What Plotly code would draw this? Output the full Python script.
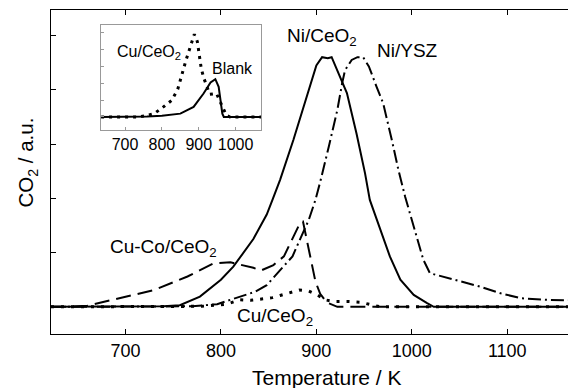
import plotly.graph_objects as go

# ---- main panel data ----
t_ni_ceo2 = [622, 700, 740, 757, 778, 800, 813, 834, 848, 854, 862, 876, 890, 900, 906, 912, 916, 923, 932, 942, 951, 956, 967, 977, 988, 1002, 1016, 1023, 1100, 1172]
y_ni_ceo2 = [0, 0, 0.01, 0.03, 0.19, 0.5, 0.74, 1.25, 1.7, 1.97, 2.34, 3.08, 3.87, 4.45, 4.6, 4.58, 4.6, 4.3, 3.94, 3.2, 2.46, 1.97, 1.42, 0.93, 0.5, 0.22, 0.07, 0, 0, 0]

t_ni_ysz = [622, 700, 770, 796, 813, 836, 848, 866, 875, 883, 892, 899, 904, 913, 922, 927, 930, 937, 943, 949, 955, 963, 970, 979, 986, 993, 1000, 1012, 1019, 1037, 1051, 1072, 1093, 1114, 1141, 1172]
y_ni_ysz = [0, 0, 0.01, 0.05, 0.15, 0.28, 0.4, 0.74, 0.93, 1.25, 1.6, 1.97, 2.3, 2.95, 3.63, 4.12, 4.36, 4.55, 4.6, 4.6, 4.43, 4.06, 3.75, 3.08, 2.52, 2.03, 1.6, 0.87, 0.62, 0.53, 0.47, 0.37, 0.25, 0.16, 0.13, 0.12]

t_cuco = [622, 640, 660, 695, 730, 765, 792, 810, 834, 842, 855, 866, 872, 883, 886, 890, 894, 899, 904, 911, 922, 1172]
y_cuco = [0, 0, 0.02, 0.16, 0.31, 0.56, 0.8, 0.82, 0.72, 0.67, 0.77, 0.93, 1.14, 1.55, 1.57, 1.23, 0.93, 0.47, 0.24, 0.08, 0, 0]

t_cu_ceo2 = [622, 700, 780, 806, 820, 831, 843, 854, 862, 873, 882, 892, 901, 909, 918, 932, 946, 967, 1172]
y_cu_ceo2 = [0, 0, 0.01, 0.05, 0.13, 0.12, 0.15, 0.17, 0.21, 0.26, 0.31, 0.29, 0.22, 0.13, 0.1, 0.1, 0.085, 0, 0]

# ---- inset data ----
t_in_cu = [635, 664, 686, 709, 734, 756, 779, 804, 827, 843, 857, 865, 873, 880, 888, 896, 903, 907, 914, 923, 930, 948, 966, 975, 985, 1070]
y_in_cu = [0, 0, 0, 0, 0, 0.015, 0.04, 0.12, 0.2, 0.33, 0.56, 0.67, 0.78, 0.89, 0.985, 0.9, 0.68, 0.57, 0.46, 0.36, 0.27, 0.28, 0.1, 0.02, 0, 0]

t_in_blank = [635, 700, 760, 800, 850, 886, 913, 932, 945, 954, 959, 964, 968, 1070]
y_in_blank = [0, 0, 0.005, 0.015, 0.04, 0.12, 0.28, 0.41, 0.45, 0.36, 0.2, 0.04, 0, 0]

x_ticks = [700, 800, 900, 1000, 1100]
inset_ticks = [700, 800, 900, 1000]

FONT = "Liberation Sans, Arial, sans-serif"

fig = go.Figure()
fig.add_trace(go.Scatter(x=t_ni_ceo2, y=y_ni_ceo2, mode="lines",
                         line=dict(color="black", width=2), hoverinfo="skip"))
fig.add_trace(go.Scatter(x=t_ni_ysz, y=y_ni_ysz, mode="lines",
                         line=dict(color="black", width=2, dash="13px,4px,2px,4px"), hoverinfo="skip"))
fig.add_trace(go.Scatter(x=t_cuco, y=y_cuco, mode="lines",
                         line=dict(color="black", width=2, dash="15px,7px"), hoverinfo="skip"))
fig.add_trace(go.Scatter(x=t_cu_ceo2, y=y_cu_ceo2, mode="lines",
                         line=dict(color="black", width=3, dash="3px,7px"), hoverinfo="skip"))

fig.add_trace(go.Scatter(x=t_in_cu, y=y_in_cu, mode="lines", xaxis="x2", yaxis="y2",
                         line=dict(color="black", width=3, dash="3px,5px"), hoverinfo="skip"))
fig.add_trace(go.Scatter(x=t_in_blank, y=y_in_blank, mode="lines", xaxis="x2", yaxis="y2",
                         line=dict(color="black", width=2), hoverinfo="skip"))

ann = [
    dict(x=906, y=4.97, xref="x", yref="y", text="Ni/CeO<sub>2</sub>"),
    dict(x=995, y=4.73, xref="x", yref="y", text="Ni/YSZ"),
    dict(x=740, y=1.09, xref="x", yref="y", text="Cu-Co/CeO<sub>2</sub>"),
    dict(x=857, y=-0.18, xref="x", yref="y", text="Cu/CeO<sub>2</sub>"),
]
annotations = [dict(a, showarrow=False, font=dict(family=FONT, size=19, color="black")) for a in ann]
annotations += [
    dict(x=765, y=0.77, xref="x2", yref="y2", text="Cu/CeO<sub>2</sub>", showarrow=False,
         font=dict(family=FONT, size=16, color="black")),
    dict(x=992, y=0.58, xref="x2", yref="y2", text="Blank", showarrow=False,
         font=dict(family=FONT, size=16, color="black")),
    # axis titles
    dict(x=0.5257, y=-0.1358, xref="paper", yref="paper", text="Temperature / K", showarrow=False,
         xanchor="center", yanchor="middle", font=dict(family=FONT, size=21, color="black")),
    dict(x=-0.0457, y=0.529, xref="paper", yref="paper", text="CO<sub>2</sub> / a.u.", showarrow=False,
         textangle=-90, xanchor="center", yanchor="middle",
         font=dict(family=FONT, size=20.5, color="black")),
]

# page body has an 8px margin, so the figure is placed at (8, 8) in the window
fig.update_layout(
    width=568, height=380,
    margin=dict(l=43, r=0, t=2, b=54),
    paper_bgcolor="white", plot_bgcolor="white",
    showlegend=False,
    font=dict(family=FONT, color="black"),
    annotations=annotations,
    xaxis=dict(range=[622, 1172], domain=[0, 1], tickvals=x_ticks, ticks="inside", ticklen=5,
               tickcolor="black", showline=True, linecolor="black", linewidth=1, mirror="ticks",
               showgrid=False, zeroline=False, tickfont=dict(size=18)),
    yaxis=dict(range=[-0.5, 5.47], tickvals=[0, 1, 2, 3, 4, 5], showticklabels=False,
               ticks="inside", ticklen=5, tickcolor="black", showline=True, linecolor="black",
               linewidth=1, mirror="ticks", showgrid=False, zeroline=False),
    xaxis2=dict(range=[635, 1070], domain=[0.0954, 0.4008], anchor="y2", tickvals=inset_ticks,
                ticks="inside", ticklen=3, tickcolor="#999999", showline=True, linecolor="#999999",
                linewidth=1, mirror=True, showgrid=False, zeroline=False,
                tickfont=dict(size=16)),
    yaxis2=dict(range=[-0.155, 1.095], domain=[0.6296, 0.9537], anchor="x2",
                tickvals=[0, 0.2, 0.4, 0.6, 0.8, 1.0], showticklabels=False,
                ticks="inside", ticklen=3, tickcolor="#999999", showline=True, linecolor="#999999",
                linewidth=1, mirror=True, showgrid=False, zeroline=False),
)

fig.write_html("out.html")
